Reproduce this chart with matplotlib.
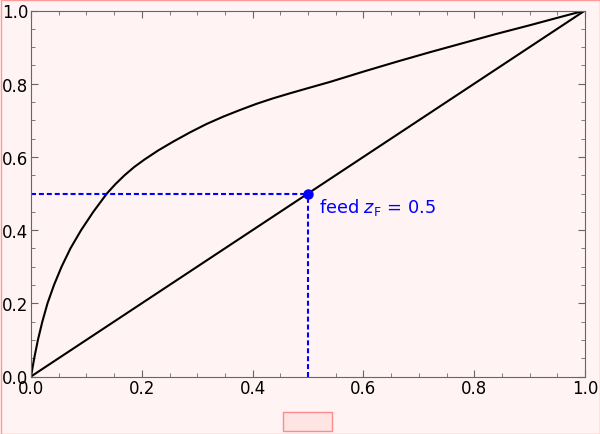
import matplotlib
matplotlib.use("Agg")
import matplotlib.pyplot as plt
from matplotlib.patches import Rectangle
from matplotlib.ticker import MultipleLocator

# equilibrium curve
x_eq = [0, 0.0058, 0.0125, 0.0205, 0.0298, 0.0415, 0.0552, 0.0712, 0.0905,
        0.1125, 0.137, 0.152, 0.169, 0.186, 0.205, 0.23, 0.257, 0.287, 0.317,
        0.347, 0.377, 0.407, 0.437, 0.468, 0.498, 0.54, 0.60, 0.66, 0.72,
        0.78, 0.84, 0.901, 0.95, 1.0]
y_eq = [0, 0.05, 0.10, 0.15, 0.20, 0.25, 0.30, 0.35, 0.40,
        0.45, 0.50, 0.525, 0.55, 0.572, 0.593, 0.618, 0.642, 0.667, 0.690,
        0.710, 0.728, 0.745, 0.760, 0.774, 0.787, 0.805, 0.833, 0.860, 0.886,
        0.911, 0.936, 0.960, 0.980, 1.0]
diag = [0, 1]
zF = 0.5

bg = "#fff3f3"
fig = plt.figure(figsize=(6, 4.35), dpi=100, facecolor=bg)
ax = fig.add_axes([31/600, 1 - 377.5/435, 554/600, 366/435])
ax.set_facecolor(bg)

ax.plot(x_eq, y_eq, color="black", lw=1.5)
ax.plot(diag, diag, color="black", lw=1.5)
ax.plot([0, zF], [zF, zF], color="blue", lw=1.5, ls=(0, (2.4, 1.4)))
ax.plot([zF, zF], [0, zF], color="blue", lw=1.5, ls=(0, (2.4, 1.4)))
ax.plot([zF], [zF], "o", color="blue", ms=6.5)
ax.text(zF + 0.02, zF - 0.035, r"feed $z_{\rm F}$ = 0.5", color="blue",
        fontsize=12.8, va="center", ha="left")

ax.set_xlim(0, 1)
ax.set_ylim(0, 1)
ax.xaxis.set_major_locator(MultipleLocator(0.2))
ax.yaxis.set_major_locator(MultipleLocator(0.2))
ax.xaxis.set_minor_locator(MultipleLocator(0.05))
ax.yaxis.set_minor_locator(MultipleLocator(0.05))
ax.tick_params(which="both", direction="in", top=True, right=True,
               color="#666666", labelsize=12, pad=2)
ax.tick_params(which="major", length=5)
ax.tick_params(which="minor", length=3)
for s in ax.spines.values():
    s.set_color("#666666")

# outer frame and the small box under the plot
fig.patches.append(Rectangle((0.5/600, 0.5/435), 599/600, 434/435,
                             transform=fig.transFigure, fill=False,
                             edgecolor="#ff9a9a", lw=1))
fig.patches.append(Rectangle((283/600, 3/435), 49/600, 19/435,
                             transform=fig.transFigure, facecolor="#ffe4e4",
                             edgecolor="#ff8a8a", lw=1))

fig.savefig("out.png", dpi=100, facecolor=bg)
